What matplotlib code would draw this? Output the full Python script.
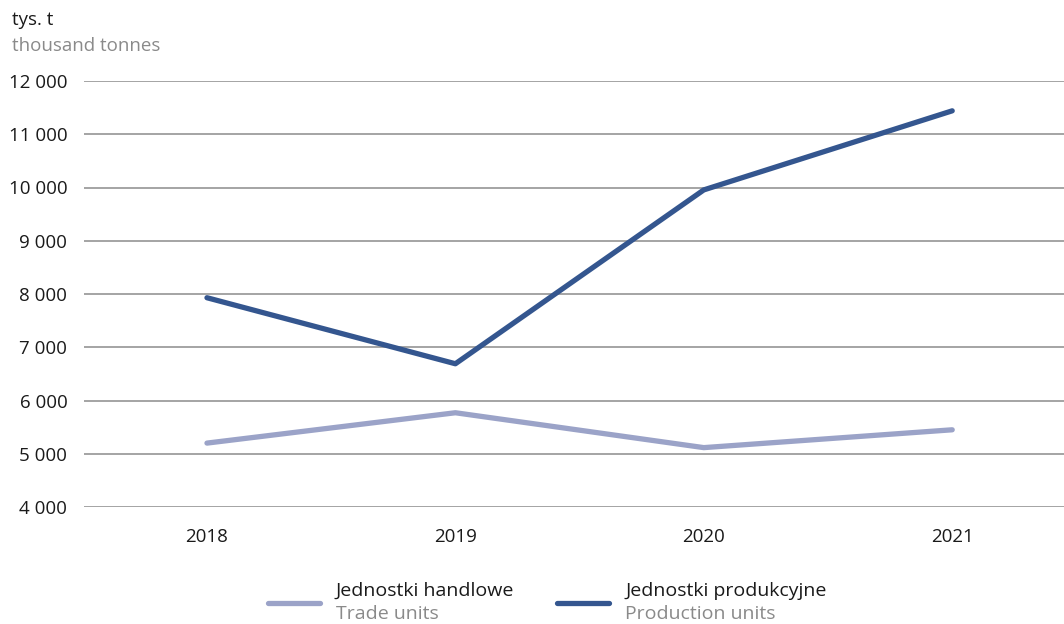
import matplotlib.pyplot as plt
from matplotlib.lines import Line2D
from matplotlib.ticker import FuncFormatter

years = ["2018", "2019", "2020", "2021"]
trade = [5200, 5770, 5115, 5450]
production = [7930, 6690, 9955, 11440]
y_ticks = list(range(4000, 12001, 1000))

trade_color = "#9ba3c8"
prod_color = "#34568f"
grid_color = "#8c8c8c"
text_color = "#1a1a1a"
grey_text = "#8a8a8a"

plt.rcParams['font.family'] = ['Open Sans', 'DejaVu Sans']
fs = 13.5
fs_leg = 14

fig = plt.figure(figsize=(10.64, 6.24), dpi=100)
ax = fig.add_axes([84 / 1064, 1 - 507 / 624, 1 - 84 / 1064, (507 - 81) / 624])

x = range(len(years))
ax.plot(x, trade, color=trade_color, lw=3.8, solid_capstyle='round', solid_joinstyle='round', zorder=3)
ax.plot(x, production, color=prod_color, lw=3.8, solid_capstyle='round', solid_joinstyle='round', zorder=3)

ax.set_ylim(4000, 12000)
ax.set_xlim(-0.495, 3.45)
ax.set_yticks(y_ticks)
ax.yaxis.set_major_formatter(FuncFormatter(lambda v, p: f"{int(v):,}".replace(",", " ")))
ax.set_xticks(list(x))
ax.set_xticklabels(years)
ax.grid(axis='y', color=grid_color, lw=1.1, zorder=0)
ax.set_axisbelow(True)
for s in ax.spines.values():
    s.set_visible(False)
ax.tick_params(axis='both', length=0, labelsize=fs, colors=text_color)
ax.tick_params(axis='y', pad=12)
ax.tick_params(axis='x', pad=15)

fig.text(12 / 1064, 1 - 20 / 624, "tys. t", fontsize=fs, color=text_color, va='center', ha='left')
fig.text(12 / 1064, 1 - 46 / 624, "thousand tonnes", fontsize=fs, color=grey_text, va='center', ha='left')

# legend
legend_items = [
    (268, 320, 336, "Jednostki handlowe", "Trade units", trade_color),
    (557, 609, 625, "Jednostki produkcyjne", "Production units", prod_color),
]
for x0, x1, tx, pl, en, col in legend_items:
    fig.add_artist(Line2D([x0 / 1064, x1 / 1064], [1 - 603 / 624] * 2, color=col, lw=3.8,
                          solid_capstyle='round', transform=fig.transFigure))
    fig.text(tx / 1064, 1 - 591 / 624, pl, fontsize=fs_leg, color=text_color, va='center', ha='left')
    fig.text(tx / 1064, 1 - 614 / 624, en, fontsize=fs_leg, color=grey_text, va='center', ha='left')

fig.savefig("out.png", dpi=100)
